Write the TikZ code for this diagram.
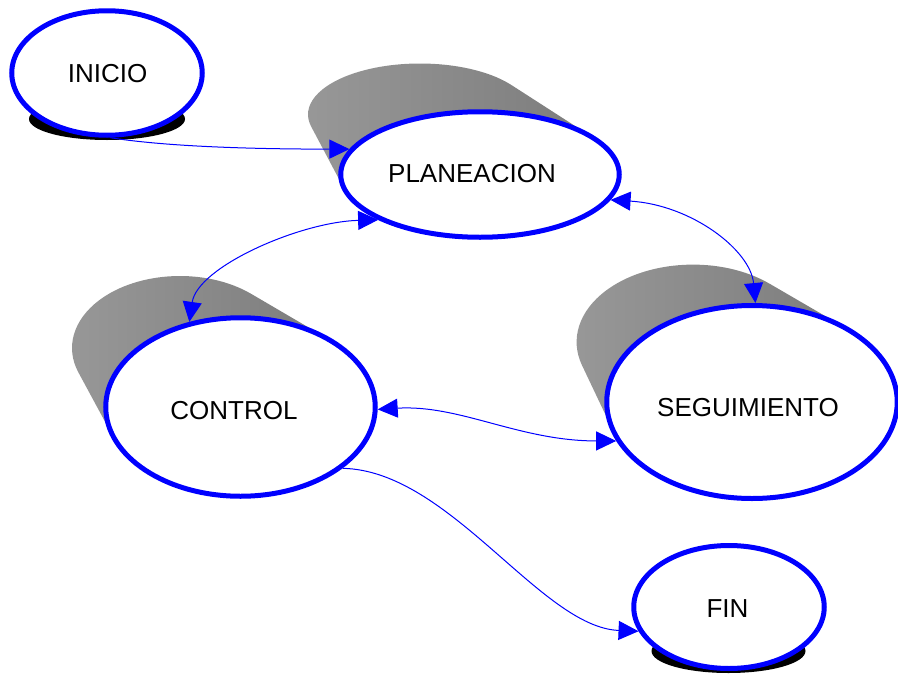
\documentclass[tikz,border=0pt]{standalone}
\usepackage{fontspec}
\setmainfont{Liberation Sans}
\usetikzlibrary{shapes.geometric,arrows.meta,calc}

\definecolor{stateblue}{RGB}{0,0,255}
\definecolor{barrellight}{RGB}{152,152,152}
\definecolor{barreldark}{RGB}{124,124,124}

% Grey extruded body behind a state ellipse.
% #1 front centre, #2/#3 front radii, #4 offset of back face,
% #5/#6 back radii, #7/#8 angles of the two side edges
\newcommand\barrelbody[8]{%
  \shade[barrel]
    ($(#1)+(#7:#2pt and #3pt)$)
    -- ($(#1)+(#4)+(#7:#5pt and #6pt)$)
    arc[start angle=#7, end angle=#8, x radius=#5pt, y radius=#6pt]
    -- ($(#1)+(#8:#2pt and #3pt)$)
    arc[start angle=#8, end angle=#7, x radius=#2pt, y radius=#3pt]
    -- cycle;}

\begin{document}
\begin{tikzpicture}[x=1pt, y=1pt,
  >={Triangle[length=20pt, width=19pt]},
  state/.style={ellipse, draw=stateblue, line width=5pt, fill=white,
    inner sep=0pt},
  caption/.style={anchor=base, inner sep=0pt, font=\fontsize{26}{31}\selectfont},
  conn/.style={draw=stateblue, line width=1pt},
  barrel/.style={left color=barrellight, right color=barreldark, draw=none},
  base/.style={fill=black}]

\useasboundingbox (0,0) rectangle (898,-675);

% centres of the states
\coordinate (cInicio)  at (107,-73);
\coordinate (cPlan)    at (480,-174.5);
\coordinate (cControl) at (240.5,-407);
\coordinate (cSeg)     at (752,-402);
\coordinate (cFin)     at (729,-607);

% extruded bodies
\barrelbody{cPlan}{139.5}{63}{-60,60}{112}{51}{35.3}{193.3}
\barrelbody{cControl}{135}{89.5}{-60.5,59}{108}{72}{48.7}{199.7}
\barrelbody{cSeg}{145.5}{96.75}{-59,60}{116.4}{77.4}{48.9}{197.5}

% dark bases under start and end
\fill[base] (107,-119) ellipse[x radius=78pt, y radius=21pt];
\fill[base] (728.5,-651) ellipse[x radius=77pt, y radius=22pt];

% states
\node[state, minimum width=190.5pt, minimum height=124.5pt] (inicio) at (cInicio) {};
\node[state, minimum width=278.5pt, minimum height=125.5pt] (plan) at (cPlan) {};
\node[state, minimum width=269.5pt, minimum height=178.5pt] (control) at (cControl) {};
\node[state, minimum width=290.5pt, minimum height=193pt] (seg) at (cSeg) {};
\node[state, minimum width=190.5pt, minimum height=123pt] (fin) at (cFin) {};

% state names
\node[caption] (inicioText)  at (107.5,-82) {INICIO};
\node[caption] (planText)    at (472,-182) {PLANEACION};
\node[caption] (controlText) at (234,-419) {CONTROL};
\node[caption] (segText)     at (748,-416) {SEGUIMIENTO};
\node[caption] (finText)     at (727.5,-617) {FIN};

% transitions
\draw[conn, ->] (inicio.-87.4) .. controls +(50,-8) and +(-110,0) .. (plan.169.1);
\draw[conn, <->] (control.121) .. controls +(8,55) and +(-78,-2) .. (plan.204);
\draw[conn, <->] (plan.-11.2) .. controls +(81,-5) and +(-5,53) .. (seg.88.3);
\draw[conn, <->] (control.-1.25) .. controls +(82,5) and +(-97,0) .. (seg.196.5);
\draw[conn, ->] (control.-31.6) .. controls +(107,-2) and +(-98,4) .. (fin.195.4);

\end{tikzpicture}
\end{document}
